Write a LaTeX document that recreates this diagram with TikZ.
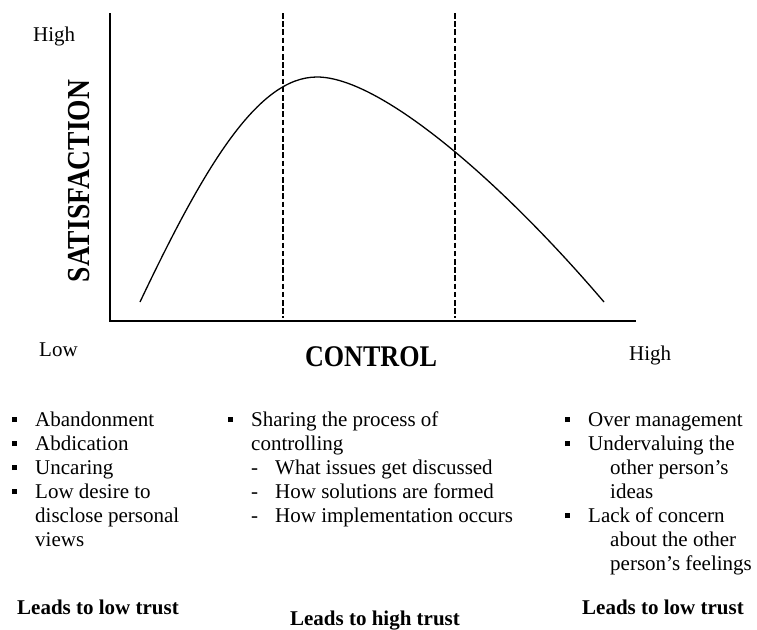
\documentclass[tikz,border=0pt]{standalone}
\usepackage{fontspec}
\setmainfont{Liberation Serif}
\newcommand{\sqbullet}{\rule[4pt]{5pt}{5pt}}
\newcommand{\itm}[1]{\makebox[23pt][l]{\sqbullet}#1}
\newcommand{\cnt}[1]{\hspace{23pt}#1}
\newcommand{\subitm}[1]{\hspace{23pt}\makebox[24pt][l]{-}#1}
\tikzset{
  listcol/.style={anchor=base west, font=\fontsize{21}{24}\selectfont},
  trust/.style={anchor=base, font=\fontsize{21}{24}\selectfont\bfseries},
  endword/.style={anchor=base west, font=\fontsize{21}{24}\selectfont},
  divider/.style={line width=1.1pt, dash pattern=on 5.5pt off 2.7pt}
}
\begin{document}
\begin{tikzpicture}[x=1pt, y=-1pt, every node/.style={inner sep=0pt}]
        \useasboundingbox (0,0) rectangle (757,629);
        \draw[line width=1.8pt] (110,13)--(110,321)--(636,321);
        \draw[divider] (283,13)--(283,318);
        \draw[divider] (455,13)--(455,318);
        \draw[line width=1.3pt] (140,302) .. controls (205,165) and (258,77) .. (317,77)
            .. controls (380,77) and (500,180) .. (604,302);
        % axis words
        \node[endword] (yhigh) at (33,41) {High};
        \node[endword] (xlow) at (39,356) {Low};
        \node[endword] (xhigh) at (629,360) {High};
        \node[rotate=90, xscale=0.86, font=\fontsize{32}{34}\selectfont\bfseries] (satis) at (79,181) {SATISFACTION};
        \node[xscale=0.87, font=\fontsize{30}{32}\selectfont\bfseries] (ctrl) at (371,357) {CONTROL};
        % the three columns
        \node[listcol] (lowlist) at (12,426) {\begin{tabular}[t]{@{}l@{}}
            \itm{Abandonment}\\ \itm{Abdication}\\ \itm{Uncaring}\\
            \itm{Low desire to}\\ \cnt{disclose personal}\\ \cnt{views}
            \end{tabular}};
        \node[listcol] (sharelist) at (228,426) {\begin{tabular}[t]{@{}l@{}}
            \itm{Sharing the process of}\\ \cnt{controlling}\\
            \subitm{What issues get discussed}\\ \subitm{How solutions are formed}\\
            \subitm{How implementation occurs}
            \end{tabular}};
        \node[listcol] (overlist) at (565,426) {\begin{tabular}[t]{@{}l@{}}
            \itm{Over management}\\ \itm{Undervaluing the}\\
            \hspace{45pt}other person’s\\ \hspace{45pt}ideas\\
            \itm{Lack of concern}\\ \hspace{45pt}about the other\\ \hspace{45pt}person’s feelings
            \end{tabular}};
        \node[trust] (lowtrust1) at (98,614) {Leads to low trust};
        \node[trust] (hightrust) at (375,625) {Leads to high trust};
        \node[trust] (lowtrust2) at (663,614) {Leads to low trust};
\end{tikzpicture}
\end{document}
